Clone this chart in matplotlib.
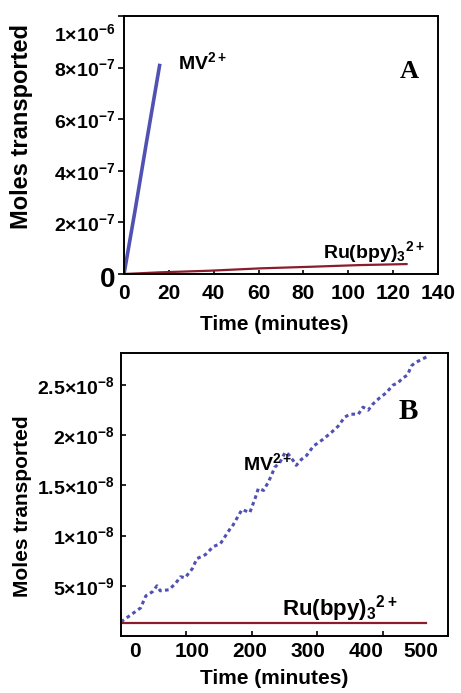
"""
Moles transported vs time: MV2+ and Ru(bpy)3 2+ (panels A and B)
"""

import matplotlib
matplotlib.use('Agg')
import matplotlib.pyplot as plt
import matplotlib.transforms as mtransforms
import numpy as np

plt.rcParams['font.family'] = 'Liberation Sans'
plt.rcParams['font.weight'] = 'bold'
plt.rcParams['mathtext.fontset'] = 'custom'
plt.rcParams['mathtext.rm'] = 'Liberation Sans:bold'
plt.rcParams['mathtext.it'] = 'Liberation Sans:bold'
plt.rcParams['mathtext.bf'] = 'Liberation Sans:bold'

MV_COLOR = '#5151b4'
RU_COLOR = '#8b1c2c'

# Panel A (minutes, moles)
a_mv_time = [0, 5, 10, 16]
a_mv_moles = [0, 2.5e-7, 5.1e-7, 8.15e-7]
a_ru_time = [0, 16, 38, 61, 83, 105, 126]
a_ru_moles = [0, 6.5e-9, 12.7e-9, 22e-9, 28e-9, 34.6e-9, 38.5e-9]
a_xticks = [0, 20, 40, 60, 80, 100, 120, 140]
a_yticks = [0, 2e-7, 4e-7, 6e-7, 8e-7, 1e-6]
a_ylabels = ['0', r'$2{\times}10^{-7}$', r'$4{\times}10^{-7}$',
             r'$6{\times}10^{-7}$', r'$8{\times}10^{-7}$', r'$1{\times}10^{-6}$']

# Panel B (minutes, moles)
b_mv_time = [0, 2, 15, 30, 38, 48, 55, 60, 73, 83, 91, 98, 109, 116, 129, 141,
             152, 159, 167, 170, 177, 185, 197, 205, 210, 218, 225, 230, 235,
             243, 251, 256, 263, 268, 276, 284, 294, 309, 322, 332, 342, 350,
             363, 370, 378, 385, 395, 405, 416, 423, 431, 438, 444, 449, 461, 467]
b_mv_nmol = [1.4, 1.5, 2.1, 2.8, 4.0, 4.4, 5.0, 4.5, 4.6, 5.2, 5.9, 5.8, 6.7, 7.7,
             8.1, 8.9, 9.2, 9.9, 10.7, 10.9, 11.7, 12.6, 12.3, 13.7, 14.7, 14.5,
             15.3, 16.0, 16.8, 17.3, 18.3, 18.1, 17.5, 17.0, 17.6, 18.0, 18.9,
             19.6, 20.3, 20.9, 21.8, 22.1, 22.1, 22.8, 22.5, 23.1, 23.7, 24.2,
             25.0, 25.2, 25.7, 26.0, 26.9, 27.2, 27.6, 27.8]
b_ru_time = [0, 467]
b_ru_moles = [1.3e-9, 1.3e-9]
b_xticks = [0, 100, 200, 300, 400, 500]
b_yticks = [5e-9, 1e-8, 1.5e-8, 2e-8, 2.5e-8]
b_ylabels = [r'$5{\times}10^{-9}$', r'$1{\times}10^{-8}$', r'$1.5{\times}10^{-8}$',
             r'$2{\times}10^{-8}$', r'$2.5{\times}10^{-8}$']


def shift_label(lbl, dx_px, dy_px):
    # nudge a tick label by some pixels (the original figure has hand-placed labels)
    off = mtransforms.ScaledTranslation(dx_px / 100, dy_px / 100, fig.dpi_scale_trans)
    lbl.set_transform(lbl.get_transform() + off)


fig = plt.figure(figsize=(4.61, 6.93), dpi=100)

# ---------- Panel A ----------
ax = fig.add_axes([0.269, 0.6046, 0.681, 0.3723])
ax.plot(a_mv_time, a_mv_moles, color=MV_COLOR, linewidth=2.6, solid_capstyle='butt')
ax.plot(a_ru_time, a_ru_moles, color=RU_COLOR, linewidth=1.6)
ax.set_xlim(0, 140)
ax.set_ylim(0, 1e-6)
ax.set_xticks(a_xticks)
ax.set_yticks(a_yticks, a_ylabels)
ax.tick_params(axis='x', direction='in', length=3, width=1.2, labelsize=15, pad=7)
ax.tick_params(axis='y', direction='out', length=4.5, width=1.2, labelsize=14, pad=2)
ylbls = ax.get_yticklabels()
ylbls[0].set_fontsize(20)
shift_label(ylbls[0], 0, -3)
shift_label(ylbls[-1], 0, -16)
for s in ax.spines.values():
    s.set_linewidth(1.4)
ax.set_ylabel('Moles transported', fontsize=17, fontweight='bold')
ax.yaxis.set_label_coords(-0.29, 0.57)
ax.set_xlabel('Time (minutes)', fontsize=15, fontweight='bold')
ax.xaxis.set_label_coords(0.478, -0.16)
ax.text(0.172, 0.795, r'MV$^{2+}$', transform=ax.transAxes, fontsize=14,
        fontweight='bold', ha='left', va='baseline')
ax.text(0.908, 0.783, 'A', transform=ax.transAxes, fontsize=19,
        fontweight='bold', family='Liberation Serif', ha='center', va='center')
ax.text(0.634, 0.062, r'Ru(bpy)$_3$$^{2+}$', transform=ax.transAxes, fontsize=14,
        fontweight='bold', ha='left', va='baseline')

# ---------- Panel B ----------
bx = fig.add_axes([0.2625, 0.0823, 0.7093, 0.4084])
bx.plot(b_mv_time, np.array(b_mv_nmol) * 1e-9, color=MV_COLOR, linewidth=2.2,
        linestyle=(0, (1.2, 1.1)))
bx.plot(b_ru_time, b_ru_moles, color=RU_COLOR, linewidth=1.6)
bx.set_xlim(0, 500)
bx.set_ylim(0, 2.82e-8)
bx.set_xticks(b_xticks)
bx.set_yticks(b_yticks, b_ylabels)
bx.tick_params(axis='x', direction='in', length=3.5, width=1.2, labelsize=15, pad=4)
bx.tick_params(axis='y', direction='in', length=3.5, width=1.2, labelsize=14, pad=5)
for lbl, dx in zip(bx.get_xticklabels(), [14, 6, -2, -9, -17, -27]):
    shift_label(lbl, dx, 0)
for s in bx.spines.values():
    s.set_linewidth(1.4)
bx.set_ylabel('Moles transported', fontsize=15, fontweight='bold')
bx.yaxis.set_label_coords(-0.272, 0.46)
bx.set_xlabel('Time (minutes)', fontsize=15, fontweight='bold')
bx.xaxis.set_label_coords(0.468, -0.115)
bx.text(0.373, 0.587, r'MV$^{2+}$', transform=bx.transAxes, fontsize=14,
        fontweight='bold', ha='left', va='baseline')
bx.text(0.878, 0.792, 'B', transform=bx.transAxes, fontsize=21,
        fontweight='bold', family='Liberation Serif', ha='center', va='center')
bx.text(0.492, 0.074, r'Ru(bpy)$_3$$^{2+}$', transform=bx.transAxes, fontsize=16,
        fontweight='bold', ha='left', va='baseline')

fig.savefig('out.png', dpi=100, facecolor='white')
plt.close(fig)
